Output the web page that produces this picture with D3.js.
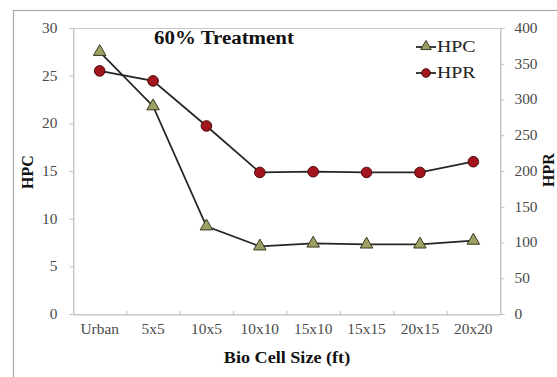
<!DOCTYPE html>
<html>
<head>
<meta charset="utf-8">
<script src="https://cdn.jsdelivr.net/npm/d3@7/dist/d3.min.js"></script>
<style>
  html, body { margin: 0; padding: 0; background: #fff; }
  svg { display: block; }
</style>
</head>
<body>
<svg id="chart" width="557" height="377" font-family="Liberation Serif, Times New Roman, serif"></svg>
<script>
// Bio cell sizes on the x axis
const categories = ["Urban", "5x5", "10x5", "10x10", "15x10", "15x15", "20x15", "20x20"];
// HPC (left axis) and HPR (right axis) for the 60% treatment
const hpcValues = [27.5, 21.8, 9.2, 7.1, 7.4, 7.3, 7.3, 7.7];
const hprValues = [340, 326, 263, 198, 199, 198, 198, 213];
const leftTicks = [0, 5, 10, 15, 20, 25, 30];
const rightTicks = [0, 50, 100, 150, 200, 250, 300, 350, 400];

const FONT = "'Liberation Serif', 'Times New Roman', serif";
const STRETCH = 1.1; // slightly widened lettering

const svg = d3.select("#chart");
const W = 557, H = 377;
const m = { left: 73, right: 500, top: 28, bottom: 314 };

// widen a text element horizontally about its own x anchor
function widen(sel, k = STRETCH) {
  sel.each(function () {
    const el = d3.select(this);
    const x0 = +el.attr("x") || 0;
    el.attr("transform", `matrix(${k},0,0,1,${(1 - k) * x0},0)`);
  });
}

// outer frame of the chart
svg.append("rect")
  .attr("x", 13.5).attr("y", 10.5)
  .attr("width", W + 10).attr("height", H + 10)
  .attr("fill", "none").attr("stroke", "#a8a8a8").attr("stroke-width", 1.2);

const x = d3.scaleBand().domain(categories).range([m.left, m.right]);
const yL = d3.scaleLinear().domain([0, 30]).range([m.bottom, m.top]);
const yR = d3.scaleLinear().domain([0, 400]).range([m.bottom, m.top]);

// plot-area box
svg.append("rect")
  .attr("x", m.left + 0.5).attr("y", m.top + 0.5)
  .attr("width", m.right - m.left).attr("height", m.bottom - m.top)
  .attr("fill", "none").attr("stroke", "#c8c8c8").attr("stroke-width", 1);

const tickColor = "#c0c0c0";
const labelColor = "#4a4a4a";

// left axis
const gL = svg.append("g").attr("transform", `translate(${m.left + 0.5},0)`)
  .call(d3.axisLeft(yL).tickValues(leftTicks).tickSize(4).tickPadding(12));
// right axis
const gR = svg.append("g").attr("transform", `translate(${m.right + 0.5},0)`)
  .call(d3.axisRight(yR).tickValues(rightTicks).tickSize(4).tickPadding(10));
// bottom axis: labels at band centres
const gB = svg.append("g").attr("transform", `translate(0,${m.bottom + 0.5})`)
  .call(d3.axisBottom(x).tickSize(0).tickPadding(10));

[gL, gR, gB].forEach(g => {
  g.attr("font-family", FONT);
  g.select(".domain").attr("stroke", "#c8c8c8");
  g.selectAll(".tick line").attr("stroke", tickColor);
  g.selectAll(".tick text")
    .attr("fill", labelColor)
    .style("font-family", FONT)
    .style("font-size", "14px")
    .call(widen);
});

// category separator ticks along the bottom
const edges = categories.slice(1).map(c => x(c));
svg.append("g").selectAll("line").data(edges).join("line")
  .attr("x1", d => d + 0.5).attr("x2", d => d + 0.5)
  .attr("y1", m.bottom - 3).attr("y2", m.bottom + 1)
  .attr("stroke", tickColor);

const cx = c => x(c) + x.bandwidth() / 2;

// series lines
const lineL = d3.line().x((d, i) => cx(categories[i])).y(d => yL(d));
const lineR = d3.line().x((d, i) => cx(categories[i])).y(d => yR(d));

svg.append("path").datum(hprValues).attr("d", lineR)
  .attr("fill", "none").attr("stroke", "#262626").attr("stroke-width", 1.8);
svg.append("path").datum(hpcValues).attr("d", lineL)
  .attr("fill", "none").attr("stroke", "#262626").attr("stroke-width", 1.8);

const tri = d3.symbol().type(d3.symbolTriangle).size(68);
const triFill = "#9d9f63", circFill = "#a3141c";

svg.append("g").selectAll("path").data(hpcValues).join("path")
  .attr("d", tri)
  .attr("transform", (d, i) => `translate(${cx(categories[i])},${yL(d)})`)
  .attr("fill", triFill).attr("stroke", "#3a3a22").attr("stroke-width", 1);

svg.append("g").selectAll("circle").data(hprValues).join("circle")
  .attr("cx", (d, i) => cx(categories[i])).attr("cy", d => yR(d))
  .attr("r", 5.3)
  .attr("fill", circFill).attr("stroke", "#4a0a0a").attr("stroke-width", 1);

// title
svg.append("text").attr("x", 154).attr("y", 44)
  .style("font-family", FONT)
  .style("font-size", "19px").style("font-weight", "bold")
  .attr("fill", "#111").text("60% Treatment")
  .call(widen);

// legend
const legend = [
  { name: "HPC", y: 47, type: "tri" },
  { name: "HPR", y: 73, type: "circ" }
];
legend.forEach(l => {
  svg.append("line").attr("x1", 416).attr("x2", 436).attr("y1", l.y).attr("y2", l.y)
    .attr("stroke", "#262626").attr("stroke-width", 1.8);
  if (l.type === "tri") {
    svg.append("path").attr("d", d3.symbol().type(d3.symbolTriangle).size(48))
      .attr("transform", `translate(426,${l.y - 0.5})`)
      .attr("fill", triFill).attr("stroke", "#3a3a22").attr("stroke-width", 1);
  } else {
    svg.append("circle").attr("cx", 426).attr("cy", l.y).attr("r", 4.3)
      .attr("fill", circFill).attr("stroke", "#4a0a0a").attr("stroke-width", 1);
  }
  svg.append("text").attr("x", 437).attr("y", l.y + 5.5)
    .style("font-family", FONT)
    .style("font-size", "16px").attr("fill", "#222").text(l.name)
    .call(widen, 1.24);
});

// axis titles
svg.append("text")
  .attr("transform", `translate(33,172) rotate(-90)`)
  .attr("text-anchor", "middle")
  .style("font-family", FONT)
  .style("font-size", "16px").style("font-weight", "bold").attr("fill", "#111")
  .text("HPC");
svg.append("text")
  .attr("transform", `translate(554,170) rotate(-90)`)
  .attr("text-anchor", "middle")
  .style("font-family", FONT)
  .style("font-size", "16px").style("font-weight", "bold").attr("fill", "#111")
  .text("HPR");
svg.append("text")
  .attr("x", 287).attr("y", 363)
  .attr("text-anchor", "middle")
  .style("font-family", FONT)
  .style("font-size", "16.5px").style("font-weight", "bold").attr("fill", "#111")
  .text("Bio Cell Size (ft)")
  .call(widen);
</script>
</body>
</html>
